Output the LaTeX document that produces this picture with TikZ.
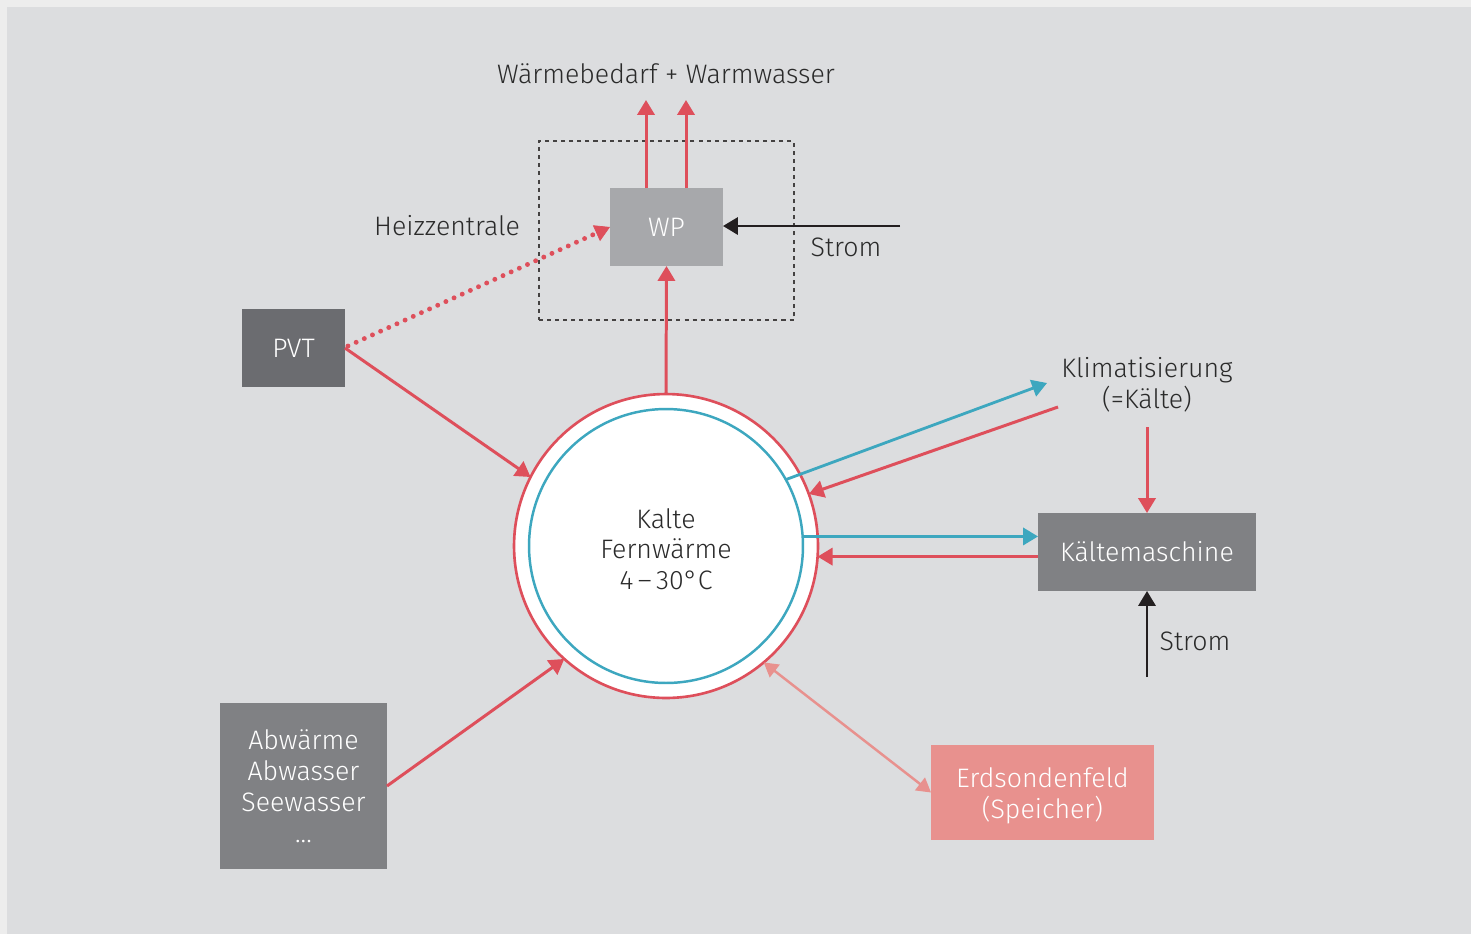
\documentclass[tikz,border=0pt]{standalone}
\usepackage{fontspec}
\setmainfont{Fira Sans Light}
\usetikzlibrary{arrows.meta,calc}
\definecolor{bgout}{HTML}{EDEDED}
\definecolor{bgin}{HTML}{DCDDDF}
\definecolor{myred}{HTML}{DE4F5B}
\definecolor{myteal}{HTML}{3DA7BF}
\definecolor{mysalmon}{HTML}{E8918E}
\definecolor{txt}{HTML}{2A2A2A}
\definecolor{boxlight}{HTML}{A7A8AB}
\definecolor{boxdark}{HTML}{6B6C70}
\definecolor{boxmid}{HTML}{808184}
\definecolor{blk}{HTML}{231F20}
\begin{document}
\begin{tikzpicture}[x=0.02cm,y=-0.02cm,
  font=\fontsize{15.2}{17.4}\selectfont,
  box/.style={draw=none, text=white, inner sep=0pt, outer sep=0pt, align=center},
  lbl/.style={text=txt, inner sep=0pt, align=center},
  tip/.style={-{Triangle[length=8.5pt,width=9.8pt]}},
  redarr/.style={draw=myred, line width=1.7pt, tip},
  tealarr/.style={draw=myteal, line width=1.6pt, -{Triangle[length=8.5pt,width=9.8pt,fill=myteal]}},
  blkarr/.style={draw=blk, line width=1.5pt, tip},
  dotarr/.style={draw=myred, line width=2.8pt, line cap=round, dash pattern=on 0pt off 5.1pt,
     -{Triangle[length=8.5pt,width=9.8pt,line width=0.4pt]}},
  salarr/.style={draw=mysalmon, line width=1.4pt, {Triangle[length=8pt,width=9pt]}-{Triangle[length=8pt,width=9pt]}}
]
\fill[bgout] (0,0) rectangle (1471,934);
\fill[bgin] (7,7) rectangle (1471,934);
\useasboundingbox (0,0) rectangle (1471,934);

% nodes
\node[draw=blk!85, line width=0.7pt, dash pattern=on 2.3pt off 2.3pt, minimum width=5.1cm, minimum height=3.58cm, inner sep=0pt] (hz) at (666.5,230.5) {};
\node[box, fill=boxlight, minimum width=2.26cm, minimum height=1.56cm] (wp) at (666.5,227) {WP};
\node[box, fill=boxdark, minimum width=2.06cm, minimum height=1.56cm] (pvt) at (293.5,348) {PVT};
\node[box, fill=boxmid, minimum width=4.36cm, minimum height=1.56cm] (km) at (1147,552) {Kältemaschine};
\node[box, fill=boxmid, minimum width=3.34cm, minimum height=3.32cm, font=\fontsize{15.2}{17.6}\selectfont] (abw) at (303.5,786) {Abwärme\\Abwasser\\Seewasser\\...};
\node[box, fill=mysalmon, minimum width=4.46cm, minimum height=1.9cm] (erd) at (1042.5,792.5) {};
\node[box, font=\fontsize{15.2}{17.6}\selectfont] (erdt) at (1042.5,795.5) {Erdsondenfeld\\(Speicher)};
\node[circle, draw=myred, fill=white, line width=1.5pt, minimum size=6.08cm, inner sep=0pt, outer sep=0pt] (ring) at (666,546) {};
\node[circle, draw=myteal, line width=1.4pt, minimum size=5.48cm, inner sep=0pt, outer sep=0pt] (core) at (666,546) {};
\node[lbl] (ktext) at (666,549) {Kalte\\Fernwärme\\4\,–\,30°C};

\node[lbl] (title) at (666,74) {Wärmebedarf + Warmwasser};
\node[lbl] (heiz) at (447,226) {Heizzentrale};
\node[lbl] (strom1) at (846,247) {Strom};
\node[lbl] (klima) at (1147,385) {Klimatisierung\\(=Kälte)};
\node[lbl] (strom2) at (1195,641) {Strom};

\coordinate (t1) at (646,100);
\coordinate (t2) at (686,100);
\coordinate (s1) at (900,226);
\coordinate (s2) at (1147,677);
\coordinate (k1) at (1047,383);
\coordinate (k2) at (1058,407);
\coordinate (k3) at (1147,427);

% connectors
\draw[redarr] (wp.north -| t1) -- (t1);
\draw[redarr] (wp.north -| t2) -- (t2);
\draw[blkarr] (s1) -- (s1 -| wp.east);
\draw[redarr] (ring.north) -- (wp.south);
\draw[dotarr] ($(pvt.east)+(3,-2)$) -- (wp.west);
\draw[redarr] (pvt.east) -- (ring.153.4);
\draw[redarr] (abw.east) -- (ring.228.7);
\draw[salarr] (ring.-50) -- (erd.west);
\draw[tealarr] (core.29.5) -- (k1);
\draw[redarr] (k2) -- (ring.20.4);
\draw[tealarr] (core.4.2) -- (core.4.2 -| km.west);
\draw[redarr] (km.west |- ring.-4.9) -- (ring.-4.9);
\draw[redarr] (k3) -- (km.north);
\draw[blkarr] (s2) -- (km.south);
\end{tikzpicture}
\end{document}
